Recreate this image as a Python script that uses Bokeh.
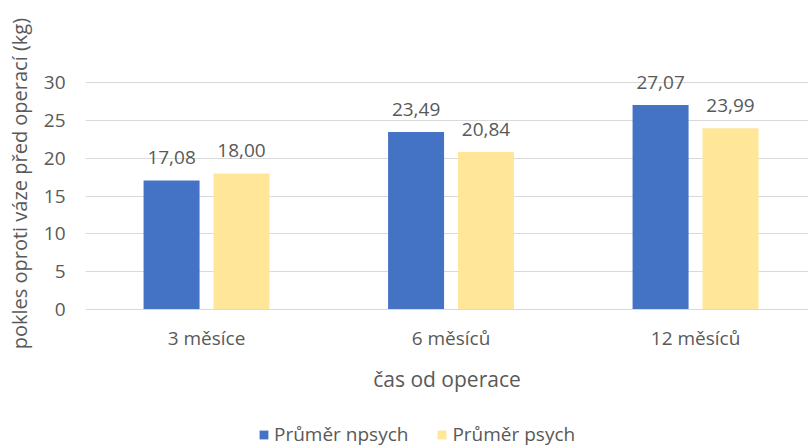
from bokeh.plotting import figure
from bokeh.layouts import column
from bokeh.models import (ColumnDataSource, LabelSet, Legend, LegendItem,
                          Range1d, FixedTicker)
from bokeh.core.properties import value
from bokeh.embed import file_html
from bokeh.resources import INLINE

categories = ["3 měsíce", "6 měsíců", "12 měsíců"]
npsych = [17.08, 23.49, 27.07]
psych = [18.00, 20.84, 23.99]
series_names = ["Průměr npsych", "Průměr psych"]
y_ticks = [0, 5, 10, 15, 20, 25, 30]

FONT = "Open Sans"
TXT = "#595959"
BLUE = "#4472C4"
YELLOW = "#FFE699"
OFF = 0.143
BW = 0.229

pos = [i + 1 for i in range(len(categories))]
src = ColumnDataSource(dict(
    pos=pos,
    x1=[x - OFF for x in pos],
    x2=[x + OFF for x in pos],
    npsych=npsych,
    psych=psych,
    npsych_lbl=[f"{v:.2f}".replace(".", ",") for v in npsych],
    psych_lbl=[f"{v:.2f}".replace(".", ",") for v in psych],
))

LEG_H = 30
p = figure(width=808, height=446 - LEG_H, x_range=Range1d(0.505, 3.462),
           y_range=Range1d(0, 34), output_backend="svg", toolbar_location=None,
           min_border_left=85, min_border_right=0, min_border_top=52,
           min_border_bottom=446 - LEG_H - 309)
p.outline_line_color = None

r1 = p.vbar(x="x1", top="npsych", width=BW, source=src, fill_color=BLUE, line_color=None)
r2 = p.vbar(x="x2", top="psych", width=BW, source=src, fill_color=YELLOW, line_color=None)

for xc, col in (("x1", "npsych"), ("x2", "psych")):
    lbl = LabelSet(x=xc, y=col, text=col + "_lbl",
                   source=src, text_align="center", text_baseline="alphabetic",
                   y_offset=16, text_font=value(FONT), text_font_size=value("19px"),
                   text_color=value(TXT))
    p.add_layout(lbl)

p.yaxis.ticker = FixedTicker(ticks=y_ticks)
p.yaxis.axis_line_color = None
p.yaxis.major_tick_line_color = None
p.yaxis.minor_tick_line_color = None
p.yaxis.major_tick_out = 0
p.yaxis.major_label_text_font = FONT
p.yaxis.major_label_text_font_size = "19px"
p.yaxis.major_label_text_color = TXT
p.yaxis.major_label_standoff = 20
p.yaxis.axis_label = "pokles oproti váze před operací  (kg)"
p.yaxis.axis_label_text_font = FONT
p.yaxis.axis_label_text_font_size = "20px"
p.yaxis.axis_label_text_font_style = "normal"
p.yaxis.axis_label_text_color = TXT
p.yaxis.axis_label_standoff = 8

p.xaxis.ticker = FixedTicker(ticks=pos)
p.xaxis.major_label_overrides = {x: c for x, c in zip(pos, categories)}
p.xaxis.axis_line_color = "#D9D9D9"
p.xaxis.major_tick_line_color = None
p.xaxis.minor_tick_line_color = None
p.xaxis.major_tick_out = 0
p.xaxis.major_label_text_font = FONT
p.xaxis.major_label_text_font_size = "19px"
p.xaxis.major_label_text_color = TXT
p.xaxis.major_label_standoff = 15
p.xaxis.axis_label = "čas od operace"
p.xaxis.axis_label_text_font = FONT
p.xaxis.axis_label_text_font_size = "21px"
p.xaxis.axis_label_text_font_style = "normal"
p.xaxis.axis_label_text_color = TXT
p.xaxis.axis_label_standoff = 11

p.xgrid.grid_line_color = None
p.ygrid.grid_line_color = "#D9D9D9"
p.ygrid.grid_line_width = 1

# legend strip below the chart (its frame is aligned with the chart frame by the column)
lg = figure(width=808, height=LEG_H, x_range=Range1d(0, 1), y_range=Range1d(0, 1),
            x_axis_type=None, y_axis_type=None, output_backend="svg",
            toolbar_location=None, min_border=0)
lg.outline_line_color = None
e1 = lg.vbar(x=[5], top=[5], bottom=[4], width=0.1, fill_color=BLUE, line_color=None)
e2 = lg.vbar(x=[5], top=[5], bottom=[4], width=0.1, fill_color=YELLOW, line_color=None)
legend = Legend(items=[LegendItem(label=series_names[0], renderers=[e1]),
                       LegendItem(label=series_names[1], renderers=[e2])],
                orientation="horizontal", location=(173, -1),
                label_text_font=FONT, label_text_font_size="19px", label_text_color=TXT,
                glyph_width=11, glyph_height=11, spacing=28, padding=0, margin=0,
                label_standoff=5, label_height=20,
                border_line_color=None, background_fill_alpha=0)
lg.add_layout(legend)

layout = column(p, lg, spacing=0)
open("out.html", "w").write(file_html(layout, INLINE))
